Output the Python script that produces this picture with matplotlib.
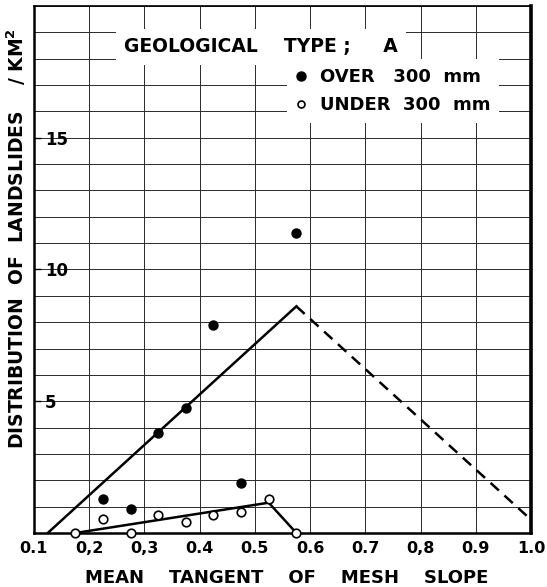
import numpy as np
import matplotlib
matplotlib.use('Agg')
import matplotlib.pyplot as plt
from matplotlib.lines import Line2D

# mean tangent classes (class midpoints) and landslide densities per km2
over_x = [0.225, 0.275, 0.325, 0.375, 0.425, 0.475, 0.575]
over_y = [1.3, 0.9, 3.8, 4.75, 7.9, 1.9, 11.4]
under_x = [0.175, 0.225, 0.275, 0.325, 0.375, 0.425, 0.475, 0.525, 0.575]
under_y = [0.0, 0.55, 0.0, 0.7, 0.4, 0.68, 0.8, 1.3, 0.0]

# fitted trend lines
over_fit_x = [0.125, 0.575]
over_fit_y = [0.0, 8.6]
over_ext_x = [0.575, 1.0]
over_ext_y = [8.6, 0.5]
under_fit_x = [0.175, 0.525, 0.575]
under_fit_y = [0.0, 1.15, 0.0]

x_ticks = [0.1, 0.2, 0.3, 0.4, 0.5, 0.6, 0.7, 0.8, 0.9, 1.0]
x_ticklabels = ['0.1', '0,2', '0,3', '0.4', '0.5', '0.6', '0.7', '0,8', '0.9', '1.0']
y_ticks = [5, 10, 15]

plt.rcParams['font.family'] = ['DejaVu Sans']
plt.rcParams['font.weight'] = 'bold'

fig = plt.figure(figsize=(5.47, 5.87), dpi=100)
ax = fig.add_axes([0.062, 0.092, 0.909, 0.898])

ax.set_xlim(0.1, 1.0)
ax.set_ylim(0, 20)

# grid: every 0.1 on x, every 1 on y
ax.set_xticks(x_ticks)
ax.set_xticklabels(x_ticklabels)
ax.set_yticks(y_ticks)
ax.set_yticks(np.arange(0, 21, 1), minor=True)
ax.set_xticks(x_ticks, minor=True)
ax.grid(True, which='minor', color='#2a2a2a', linewidth=0.7)
ax.grid(True, which='major', color='#2a2a2a', linewidth=0.7)
ax.set_axisbelow(True)

ax.tick_params(axis='x', which='both', length=0, pad=6, labelsize=11.5)
ax.tick_params(axis='y', which='minor', length=0)
ax.tick_params(axis='y', which='major', direction='in', length=5, width=1,
               pad=-8, labelsize=12)
for lbl in ax.get_yticklabels():
    lbl.set_horizontalalignment('left')

ax.spines['left'].set_linewidth(1.8)
ax.spines['bottom'].set_linewidth(1.8)
ax.spines['right'].set_linewidth(2.6)
ax.spines['top'].set_linewidth(1.2)

# trend lines
ax.plot(over_fit_x, over_fit_y, color='black', lw=1.8, zorder=3)
ax.plot(over_ext_x, over_ext_y, color='black', lw=1.8, ls=(0, (4.5, 3)), zorder=3)
ax.plot(under_fit_x, under_fit_y, color='black', lw=1.8, zorder=3, clip_on=False)

# observations
ax.scatter(over_x, over_y, s=42, color='black', zorder=4, clip_on=False)
ax.scatter(under_x, under_y, s=38, facecolor='white', edgecolor='black',
           linewidth=1.2, zorder=4, clip_on=False)

ax.text(0.181, 0.922, 'GEOLOGICAL    TYPE ;     A', transform=ax.transAxes,
        fontsize=13.5, fontweight='bold', ha='left', va='center', zorder=5,
        bbox=dict(facecolor='white', edgecolor='none', pad=6))

handles = [
    Line2D([], [], ls='none', marker='o', color='black', markersize=6.5),
    Line2D([], [], ls='none', marker='o', markerfacecolor='white',
           markeredgecolor='black', markeredgewidth=1.2, markersize=5),
]
leg = ax.legend(handles, ['OVER   300  mm', 'UNDER  300  mm'], loc='upper left',
                bbox_to_anchor=(0.509, 0.899), borderaxespad=0, frameon=True,
                fancybox=False, framealpha=1, edgecolor='none',
                handlelength=0.6, handletextpad=0.7, labelspacing=0.55,
                borderpad=0.5, prop={'size': 13, 'weight': 'bold'})
leg.set_zorder(5)

ax.set_xlabel('MEAN    TANGENT    OF    MESH    SLOPE', fontsize=13, fontweight='bold')
ax.xaxis.set_label_coords(0.509, -0.068)
ax.set_ylabel('DISTRIBUTION  OF  LANDSLIDES    / KM$^\\mathbf{2}$', fontsize=13.5,
              fontweight='bold')
ax.yaxis.set_label_coords(-0.012, 0.558)

fig.savefig('out.png', dpi=100)
